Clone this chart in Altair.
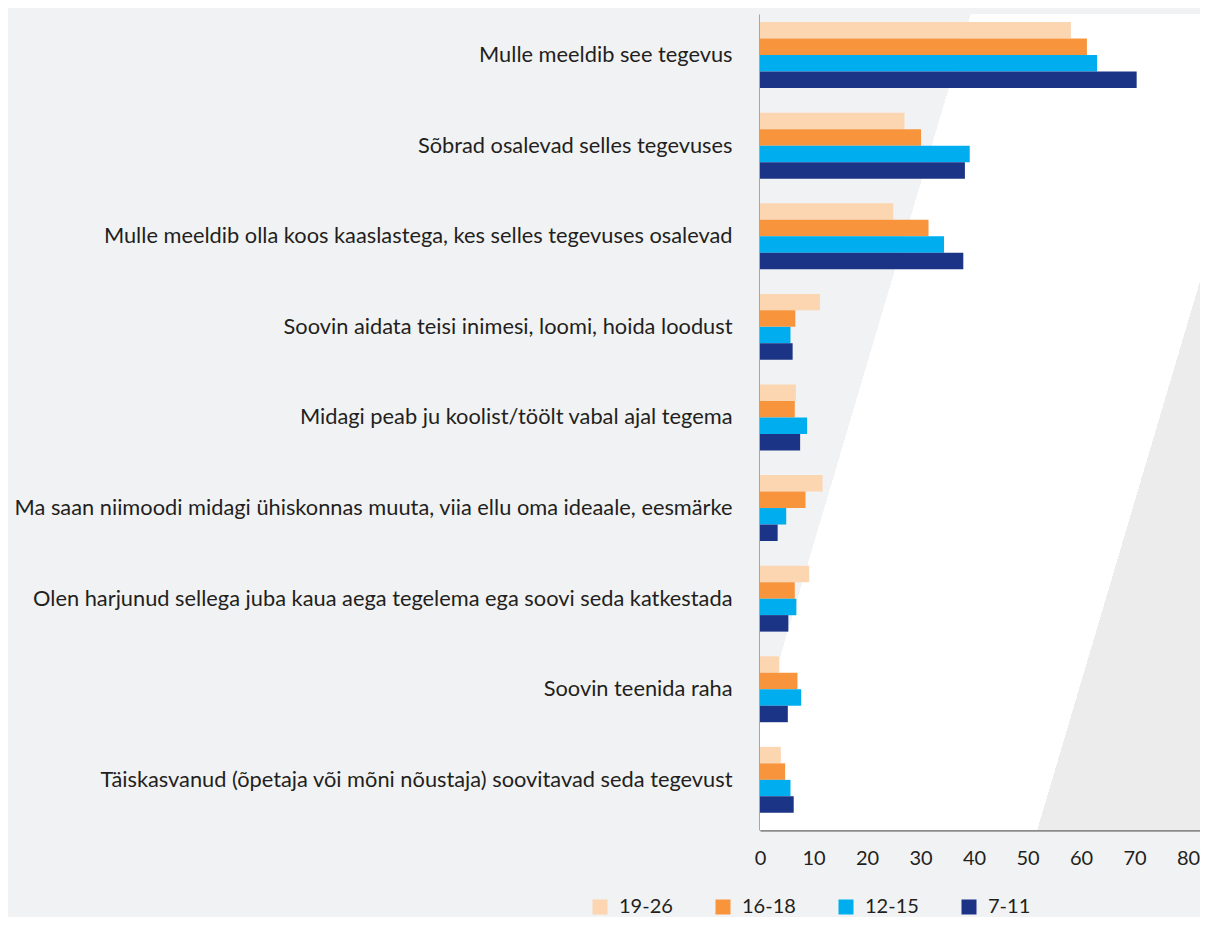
import altair as alt
import pandas as pd

categories = [
    "Mulle meeldib see tegevus",
    "Sõbrad osalevad selles tegevuses",
    "Mulle meeldib olla koos kaaslastega, kes selles tegevuses osalevad",
    "Soovin aidata teisi inimesi, loomi, hoida loodust",
    "Midagi peab ju koolist/töölt vabal ajal tegema",
    "Ma saan niimoodi midagi ühiskonnas muuta, viia ellu oma ideaale, eesmärke",
    "Olen harjunud sellega juba kaua aega tegelema ega soovi seda katkestada",
    "Soovin teenida raha",
    "Täiskasvanud (õpetaja või mõni nõustaja) soovitavad seda tegevust",
]
series = ["19-26", "16-18", "12-15", "7-11"]
colors = ["#fcd5b1", "#f7943c", "#00aeef", "#1b3486"]

v_19_26 = [58.1, 27.0, 24.9, 11.2, 6.7, 11.7, 9.2, 3.6, 3.9]
v_16_18 = [61.1, 30.1, 31.5, 6.6, 6.5, 8.5, 6.5, 7.0, 4.7]
v_12_15 = [63.0, 39.2, 34.4, 5.7, 8.8, 4.9, 6.8, 7.7, 5.7]
v_7_11 = [70.4, 38.3, 38.0, 6.1, 7.5, 3.3, 5.3, 5.2, 6.3]

x_ticks = [0, 10, 20, 30, 40, 50, 60, 70, 80]

rows = []
for s, vals in zip(series, [v_19_26, v_16_18, v_12_15, v_7_11]):
    for c, v in zip(categories, vals):
        rows.append({"cat": c, "series": s, "value": v})
df = pd.DataFrame(rows)

FONT = "Lato"
TXT = "#231f20"
AXC = "#8c8c8e"

gradient = {
    "gradient": "linear",
    "x1": 0, "y1": 0, "x2": 1, "y2": 0.55,
    "stops": [
        {"offset": 0, "color": "#f1f2f4"},
        {"offset": 0.3678, "color": "#f1f2f4"},
        {"offset": 0.3678, "color": "#ffffff"},
        {"offset": 0.906, "color": "#ffffff"},
        {"offset": 0.906, "color": "#ececec"},
        {"offset": 1, "color": "#ececec"},
    ],
}

bg = alt.Chart(pd.DataFrame({"a": [0]})).mark_rect(fill=gradient, strokeWidth=0).encode(
    opacity=alt.value(1)
)

bars = alt.Chart(df).mark_bar(strokeWidth=0).encode(
    x=alt.X(
        "value:Q",
        scale=alt.Scale(domain=[0, 82.24], nice=False),
        axis=alt.Axis(
            values=x_ticks, grid=False, ticks=False, title=None,
            labelFont=FONT, labelFontSize=20, labelColor=TXT, labelPadding=18,
            domainColor=AXC, domainWidth=2.5, labelFlush=False,
        ),
    ),
    y=alt.Y(
        "cat:N", sort=categories,
        scale=alt.Scale(paddingInner=0.272, paddingOuter=0.1395, align=0.32),
        axis=alt.Axis(
            title=None, ticks=False, labelPadding=28, labelLimit=900,
            labelFont=FONT, labelFontSize=21.8, labelColor=TXT,
            domainColor=AXC, domainWidth=2.5,
        ),
    ),
    yOffset=alt.YOffset("series:N", sort=series, scale=alt.Scale(domain=series, paddingInner=0, paddingOuter=0)),
    color=alt.Color(
        "series:N", sort=series,
        scale=alt.Scale(domain=series, range=colors),
        legend=alt.Legend(
            orient="none", legendX=-170, legendY=883, direction="horizontal",
            title=None, symbolType="square", symbolSize=225, symbolStrokeWidth=0,
            labelFont=FONT, labelFontSize=20, labelColor=TXT, labelOffset=9,
            columnPadding=40,
        ),
    ),
)

chart = alt.layer(bg, bars).properties(
    width=440, height=816,
    autosize=alt.AutoSizeParams(type="none"),
    padding={"left": 752, "top": 6, "right": 0, "bottom": 87},
    background="#f1f2f4",
).configure_view(strokeWidth=0)

chart.save("out.html", embed_options={"renderer": "svg", "actions": False})
